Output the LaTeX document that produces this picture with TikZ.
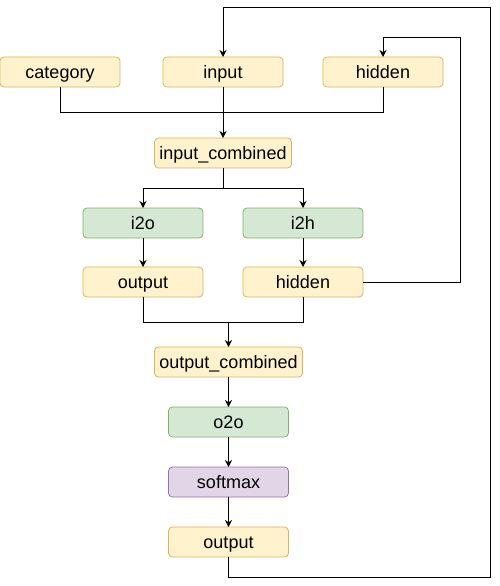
\documentclass[tikz,border=0pt]{standalone}
\usepackage{fontspec}
\setmainfont{Liberation Sans}
\usetikzlibrary{calc,positioning,arrows.meta}

\definecolor{yfill}{HTML}{FFF2CC}
\definecolor{ydraw}{HTML}{D6B656}
\definecolor{gfill}{HTML}{D5E8D4}
\definecolor{gdraw}{HTML}{82B366}
\definecolor{pfill}{HTML}{E1D5E7}
\definecolor{pdraw}{HTML}{9673A6}

\tikzset{
  box/.style={rounded corners=4pt, line width=0.8pt, minimum width=120pt, minimum height=30pt,
    inner xsep=5pt, inner ysep=0pt, outer sep=0pt, text height=13.5pt, text depth=0.5pt,
    font=\fontsize{18}{21}\selectfont},
  tensor/.style={box, fill=yfill, draw=ydraw},
  layer/.style={box, fill=gfill, draw=gdraw},
  act/.style={box, fill=pfill, draw=pdraw},
}

\begin{document}
\begin{tikzpicture}[x=1pt, y=-1pt, line width=0.8pt, >={Stealth[length=7pt,width=7pt]}]
        \useasboundingbox (0,0) rectangle (499,586);
        \node[tensor] (input) at (223,72) {input};
        \node[tensor] (category) [left=43pt of input] {category};
        \node[tensor] (hidden) [right=40pt of input] {hidden};
        \node[tensor] (incomb) [below=51pt of input] {input\_combined};
        \node[layer] (i2o) at (143,223) {i2o};
        \node[layer] (i2h) at (303,223) {i2h};
        \node[tensor] (out) [below=29pt of i2o] {output};
        \node[tensor] (hid) [below=29pt of i2h] {hidden};
        \node[tensor] (outcomb) at (228.5,362) {output\_combined};
        \node[layer] (o2o) [below=30pt of outcomb] {o2o};
        \node[act] (softmax) [below=30pt of o2o] {softmax};
        \node[tensor] (final) [below=30pt of softmax] {output};

        \coordinate (injoin) at ($(input.south)!0.5!(incomb.north)$);
        \coordinate (split) at ($(incomb.south)!0.5!(incomb.south |- i2o.north)$);
        \coordinate (outjoin) at ($(outcomb.north)!0.5!(outcomb.north |- out.south)$);
        \coordinate (hidloop) at (460,37);
        \coordinate (outloopa) at (490,577);
        \coordinate (outloopb) at (490,7);

        \draw (category) |- (injoin);
        \draw (hidden) |- (injoin);
        \draw[->] (input) -- (incomb);
        \draw[->] (incomb) -- (split) -| (i2o);
        \draw[->] (split) -| (i2h);
        \draw[->] (i2o) -- (out);
        \draw[->] (i2h) -- (hid);
        \draw (out) |- (outjoin);
        \draw[->] (hid) |- (outjoin) -- (outcomb);
        \draw[->] (outcomb) -- (o2o);
        \draw[->] (o2o) -- (softmax);
        \draw[->] (softmax) -- (final);
        \draw[->] (hid.east) -| (hidloop) -| (hidden.north);
        \draw[->] (final.south) |- (outloopa) -- (outloopb) -| (input.north);
    \end{tikzpicture}
\end{document}
